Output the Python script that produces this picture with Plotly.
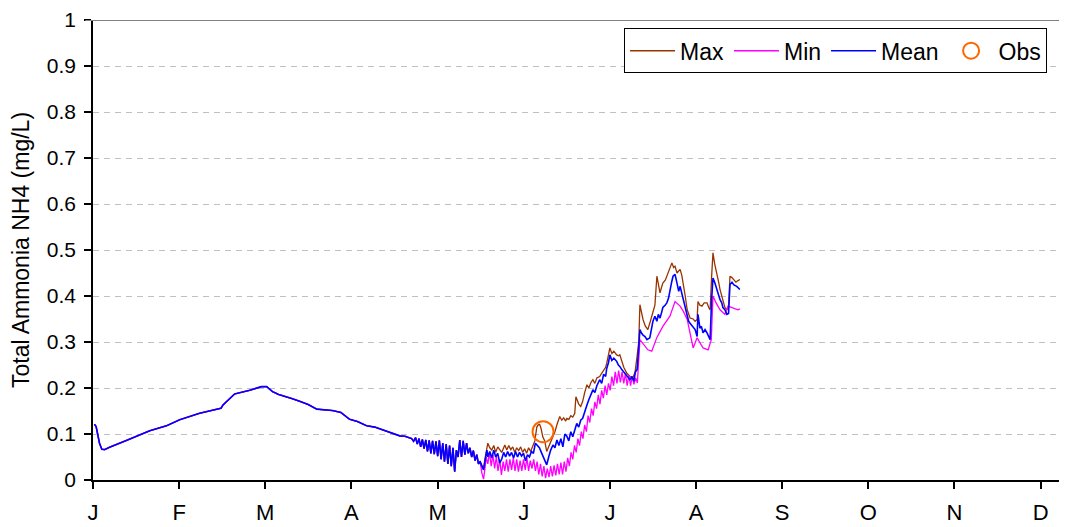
import plotly.graph_objects as go

# ---------------- data (day of year, mg/L) ----------------
month_ticks = ["J", "F", "M", "A", "M", "J", "J", "A", "S", "O", "N", "D"]
tick_days = [0, 30.42, 60.83, 91.25, 121.67, 152.08, 182.5, 212.92, 243.33, 273.75, 304.17, 334.58]

# shared part (all three series coincide)
shared_days = [0.5, 1.1, 2.3, 3.1, 4.1, 5.8, 11.8, 20.0, 26.0, 30.6, 37.6, 43.6, 45.2, 45.9, 50.0,
               55.3, 59.5, 61.3, 63.4, 65.5, 67.7, 70.2, 73.0, 76.0, 79.0, 84.6, 87.5, 90.6, 93.4,
               96.6, 99.5, 102.3, 105.1, 108.3, 110.2, 111.8,
               112.5, 113.2, 113.9, 114.5, 115.1, 115.7, 116.3, 116.9, 117.5, 118.1, 118.7, 119.3,
               119.9, 120.5, 121.1, 121.7, 122.3, 122.9, 123.5, 124.1, 124.7, 125.3, 125.9, 126.5,
               127.1, 127.7, 128.3, 128.9, 129.5, 130.1, 130.7, 131.3, 131.9, 132.5, 133.1, 133.7,
               134.3, 134.9, 135.5, 136.1, 136.7]
shared_vals = [0.121, 0.116, 0.080, 0.067, 0.066, 0.071, 0.086, 0.107, 0.118, 0.131, 0.145, 0.155, 0.156, 0.163, 0.187,
               0.195, 0.203, 0.203, 0.192, 0.186, 0.181, 0.177, 0.171, 0.164, 0.154, 0.151, 0.147, 0.132, 0.127,
               0.118, 0.115, 0.109, 0.103, 0.096, 0.095, 0.091,
               0.090, 0.084, 0.092, 0.078, 0.090, 0.072, 0.088, 0.068, 0.087, 0.062, 0.086, 0.058,
               0.085, 0.056, 0.084, 0.052, 0.086, 0.045, 0.080, 0.040, 0.078, 0.035, 0.075, 0.030,
               0.070, 0.018, 0.065, 0.050, 0.087, 0.050, 0.085, 0.055, 0.080, 0.058, 0.070, 0.050,
               0.064, 0.042, 0.055, 0.035, 0.040]

max_days = [137.3, 137.9, 138.5, 139.1, 139.4, 140.1, 140.8, 141.5, 142.2, 142.9, 143.6, 144.3, 145.0, 145.4,
            146.1, 146.8, 147.5, 148.2, 148.9, 149.6, 150.3, 151.0, 151.7, 152.4, 153.1, 153.8, 154.5, 155.3,
            156.0, 156.7, 157.2, 157.7, 158.2, 158.8, 159.5, 160.2, 160.9, 161.6, 162.4, 163.1, 163.8, 164.3,
            164.8, 165.5, 166.2, 166.9, 167.3, 168.0, 168.7, 169.4, 170.1, 170.5, 170.8, 171.5, 172.2, 172.9,
            173.6, 174.4, 175.1, 175.8, 176.5, 177.2, 177.9, 178.9, 179.6, 180.3, 181.0, 181.4, 182.0, 182.5,
            183.2, 183.9, 184.9, 185.5, 186.0, 186.7, 187.4, 188.5, 189.2, 189.6, 190.6, 191.4,
            192.1, 192.7, 193.1, 193.6, 194.2, 195.0, 195.9, 196.8, 197.7, 198.4, 199.1, 199.7, 200.2, 200.7,
            201.2, 202.1, 203.0, 203.7, 204.4, 205.0, 205.5, 206.2, 206.8, 207.3, 207.9, 208.4, 209.1, 209.8,
            210.3, 210.8, 211.9, 212.6, 213.3, 213.6, 214.3, 215.0, 215.8, 216.8, 217.4, 217.9, 218.4, 218.9,
            219.5, 220.3, 220.9, 221.4, 222.0, 222.4, 223.1, 223.8, 224.4, 224.9, 225.6, 226.3, 227.0, 227.6,
            228.4]
max_vals = [0.032, 0.025, 0.050, 0.072, 0.080, 0.070, 0.065, 0.075, 0.060, 0.072, 0.065, 0.060, 0.070, 0.076,
            0.065, 0.075, 0.066, 0.072, 0.060, 0.070, 0.064, 0.072, 0.060, 0.068, 0.058, 0.070, 0.062, 0.073,
            0.085, 0.115, 0.120, 0.121, 0.112, 0.094, 0.085, 0.062, 0.072, 0.080, 0.091, 0.105, 0.120, 0.130,
            0.138, 0.130, 0.135, 0.128, 0.134, 0.132, 0.140, 0.137, 0.145, 0.181, 0.175, 0.165, 0.160, 0.171,
            0.190, 0.207, 0.200, 0.212, 0.218, 0.210, 0.222, 0.225, 0.232, 0.240, 0.245, 0.254, 0.270, 0.287,
            0.275, 0.280, 0.272, 0.270, 0.272, 0.260, 0.245, 0.232, 0.228, 0.225, 0.222, 0.235,
            0.269, 0.300, 0.381, 0.365, 0.349, 0.335, 0.327, 0.345, 0.363, 0.380, 0.443, 0.420, 0.407, 0.418,
            0.428, 0.435, 0.450, 0.460, 0.472, 0.462, 0.465, 0.450, 0.455, 0.458, 0.445, 0.428, 0.400, 0.370,
            0.360, 0.352, 0.350, 0.345, 0.349, 0.388, 0.380, 0.378, 0.385, 0.385, 0.375, 0.370, 0.440, 0.494,
            0.470, 0.450, 0.430, 0.414, 0.400, 0.385, 0.375, 0.370, 0.375, 0.443, 0.440, 0.435, 0.430, 0.433,
            0.436]

min_days = [137.3, 137.9, 138.5, 138.8, 139.4, 140.0, 140.6, 141.2, 141.8, 142.4, 143.0, 143.6, 144.2, 144.8,
            145.4, 146.0, 146.6, 147.2, 147.8, 148.4, 149.0, 149.6, 150.2, 150.8, 151.4, 152.0, 152.6, 153.2,
            153.8, 154.4, 155.0, 155.6, 156.2, 156.8, 157.4, 158.0, 158.6, 159.2, 159.8, 160.4, 161.0, 161.6,
            162.2, 162.8, 163.4, 164.0, 164.6, 165.2, 165.8, 166.4, 167.0, 167.6, 168.2, 168.8, 169.4, 170.0,
            170.6, 171.2, 171.8, 172.4, 173.0, 173.6, 174.2, 174.8, 175.4, 176.0, 176.6, 177.2, 177.8, 178.4,
            179.0, 179.6, 180.2, 180.8, 181.4, 182.0, 182.6, 183.2, 183.8, 184.4, 185.0, 185.6, 186.2, 186.8,
            187.4, 188.0, 188.6, 189.2, 189.8, 190.4, 191.0, 191.6, 192.2, 192.8,
            193.1, 195.9, 197.3, 199.1, 201.2, 203.7, 205.5, 207.3, 208.4, 209.8, 210.8, 211.9, 213.3, 214.3,
            215.4, 217.2, 218.3, 218.9, 220.0, 221.4, 223.1, 224.2, 226.0, 227.7, 228.4]
min_vals = [0.015, 0.002, 0.030, 0.050, 0.035, 0.060, 0.030, 0.055, 0.025, 0.050, 0.020, 0.045, 0.011, 0.040,
            0.020, 0.045, 0.018, 0.045, 0.022, 0.048, 0.020, 0.045, 0.018, 0.042, 0.020, 0.045, 0.022, 0.048,
            0.020, 0.042, 0.025, 0.045, 0.020, 0.040, 0.012, 0.035, 0.008, 0.030, 0.004, 0.025, 0.006, 0.030,
            0.008, 0.032, 0.010, 0.035, 0.012, 0.038, 0.012, 0.040, 0.018, 0.048, 0.030, 0.060, 0.045, 0.075,
            0.060, 0.090, 0.075, 0.105, 0.090, 0.120, 0.105, 0.140, 0.125, 0.155, 0.140, 0.170, 0.155, 0.185,
            0.165, 0.195, 0.178, 0.205, 0.185, 0.210, 0.195, 0.225, 0.205, 0.235, 0.210, 0.238, 0.212, 0.235,
            0.210, 0.232, 0.205, 0.228, 0.205, 0.225, 0.208, 0.222, 0.211, 0.260,
            0.305, 0.283, 0.280, 0.310, 0.334, 0.356, 0.388, 0.378, 0.367, 0.349, 0.316, 0.287, 0.309, 0.298,
            0.287, 0.283, 0.305, 0.400, 0.385, 0.370, 0.360, 0.378, 0.374, 0.370, 0.372]

mean_days = [137.3, 137.9, 138.5, 139.1, 139.4, 140.1, 140.8, 141.5, 142.2, 142.9, 143.6, 144.3, 145.0, 145.7,
             146.4, 147.1, 147.8, 148.5, 149.2, 149.9, 150.6, 151.3, 152.0, 152.7, 153.4, 154.1, 154.8, 155.5,
             156.2, 156.9, 157.6, 158.3, 159.0, 159.7, 160.2, 160.9, 161.6, 162.4, 163.1, 163.8, 164.5, 165.2,
             165.9, 166.6, 167.3, 168.0, 168.7, 169.4, 170.1, 170.8, 171.5, 172.2, 172.9, 173.6, 174.4, 175.1,
             175.8, 176.5, 177.2, 177.9, 178.9, 179.6, 180.3, 181.0, 181.4, 182.0, 182.5, 183.2, 183.9, 184.9,
             185.5, 186.0, 186.7, 187.4, 188.1, 188.5, 189.2, 189.6, 190.3, 191.0, 191.5, 192.1, 192.6, 193.1,
             193.6, 194.2, 194.9, 195.6, 196.6, 197.2, 197.7, 198.4, 199.1, 199.6, 200.2, 200.8, 201.2, 202.0,
             202.6, 203.2, 203.7, 204.3, 204.8, 205.5, 206.2, 206.8, 207.3, 207.9, 208.4, 209.1, 209.8, 210.3,
             210.8, 211.5, 212.6, 213.3, 213.6, 214.3, 214.8, 215.4, 216.1, 216.8, 217.4, 217.9, 218.4, 218.9,
             219.5, 220.3, 220.9, 221.4, 222.0, 222.4, 223.1, 223.8, 224.4, 224.9, 225.6, 226.3, 227.3, 227.9,
             228.4]
mean_vals = [0.030, 0.022, 0.045, 0.065, 0.050, 0.062, 0.048, 0.065, 0.050, 0.058, 0.037, 0.045, 0.060, 0.050,
             0.062, 0.052, 0.060, 0.048, 0.062, 0.050, 0.060, 0.052, 0.058, 0.042, 0.055, 0.050, 0.062, 0.058,
             0.080, 0.075, 0.070, 0.060, 0.050, 0.040, 0.033, 0.050, 0.065, 0.076, 0.070, 0.087, 0.075, 0.090,
             0.072, 0.100, 0.095, 0.085, 0.105, 0.094, 0.110, 0.123, 0.115, 0.130, 0.134, 0.150, 0.163, 0.175,
             0.185, 0.196, 0.190, 0.205, 0.218, 0.210, 0.230, 0.225, 0.243, 0.255, 0.272, 0.260, 0.265, 0.258,
             0.250, 0.247, 0.240, 0.235, 0.230, 0.225, 0.220, 0.218, 0.225, 0.215, 0.235, 0.240, 0.280, 0.327,
             0.320, 0.315, 0.312, 0.305, 0.309, 0.330, 0.345, 0.356, 0.345, 0.360, 0.352, 0.365, 0.375, 0.380,
             0.385, 0.395, 0.414, 0.430, 0.443, 0.447, 0.428, 0.410, 0.421, 0.405, 0.390, 0.378, 0.356, 0.345,
             0.341, 0.335, 0.327, 0.312, 0.360, 0.330, 0.334, 0.320, 0.327, 0.320, 0.310, 0.305, 0.390, 0.439,
             0.430, 0.414, 0.400, 0.392, 0.385, 0.375, 0.370, 0.360, 0.362, 0.425, 0.430, 0.424, 0.421, 0.418,
             0.414]

obs_days = [158.9]
obs_vals = [0.105]

# ---------------- figure ----------------
fig = go.Figure()
fig.add_trace(go.Scatter(x=shared_days + max_days, y=shared_vals + max_vals, mode="lines", name="Max",
                         line=dict(color="#993300", width=1.3)))
fig.add_trace(go.Scatter(x=shared_days + min_days, y=shared_vals + min_vals, mode="lines", name="Min",
                         line=dict(color="#FF00FF", width=1.3)))
fig.add_trace(go.Scatter(x=shared_days + mean_days, y=shared_vals + mean_vals, mode="lines", name="Mean",
                         line=dict(color="#0000FF", width=1.6)))
fig.add_trace(go.Scatter(x=obs_days, y=obs_vals, mode="markers", name="Obs",
                         marker=dict(symbol="circle-open", size=21, color="#FF6600",
                                     line=dict(width=2, color="#FF6600"))))

fig.add_shape(type="line", xref="paper", yref="y", x0=-0.008, x1=1, y0=1, y1=1,
              line=dict(color="#808080", width=2))

# the page body adds an 8px offset, so the figure is sized 8px smaller on each side used
fig.update_layout(
    width=1059, height=519,
    margin=dict(l=85, r=0, t=12, b=47),
    paper_bgcolor="white", plot_bgcolor="white",
    font=dict(family="Liberation Sans, Arial, sans-serif", color="black"),
    showlegend=True,
    legend=dict(orientation="h", x=0.9795, xanchor="right", y=0.982, yanchor="top",
                bordercolor="black", borderwidth=1, bgcolor="white",
                font=dict(size=23), itemwidth=45, tracegroupgap=0),
)
fig.update_xaxes(range=[0, 343.9], tickmode="array", tickvals=tick_days, ticktext=month_ticks,
                 ticks="outside", ticklen=7, tickwidth=1.5, tickcolor="black",
                 showline=True, linecolor="black", linewidth=1.5, showgrid=False, zeroline=False,
                 tickfont=dict(size=22), ticklabelstandoff=5)
fig.update_yaxes(range=[0, 1], tickmode="array", tickvals=[i / 10 for i in range(11)],
                 ticktext=["0", "0.1", "0.2", "0.3", "0.4", "0.5", "0.6", "0.7", "0.8", "0.9", "1"],
                 ticks="outside", ticklen=7, tickwidth=1.5, tickcolor="black",
                 showline=True, linecolor="black", linewidth=1.5,
                 showgrid=True, gridcolor="#C0C0C0", gridwidth=1, griddash="6px,5px", zeroline=False,
                 tickfont=dict(size=21), ticklabelstandoff=4,
                 title=dict(text="Total Ammonia NH4 (mg/L)", font=dict(size=23), standoff=13))

fig.write_html("out.html")
